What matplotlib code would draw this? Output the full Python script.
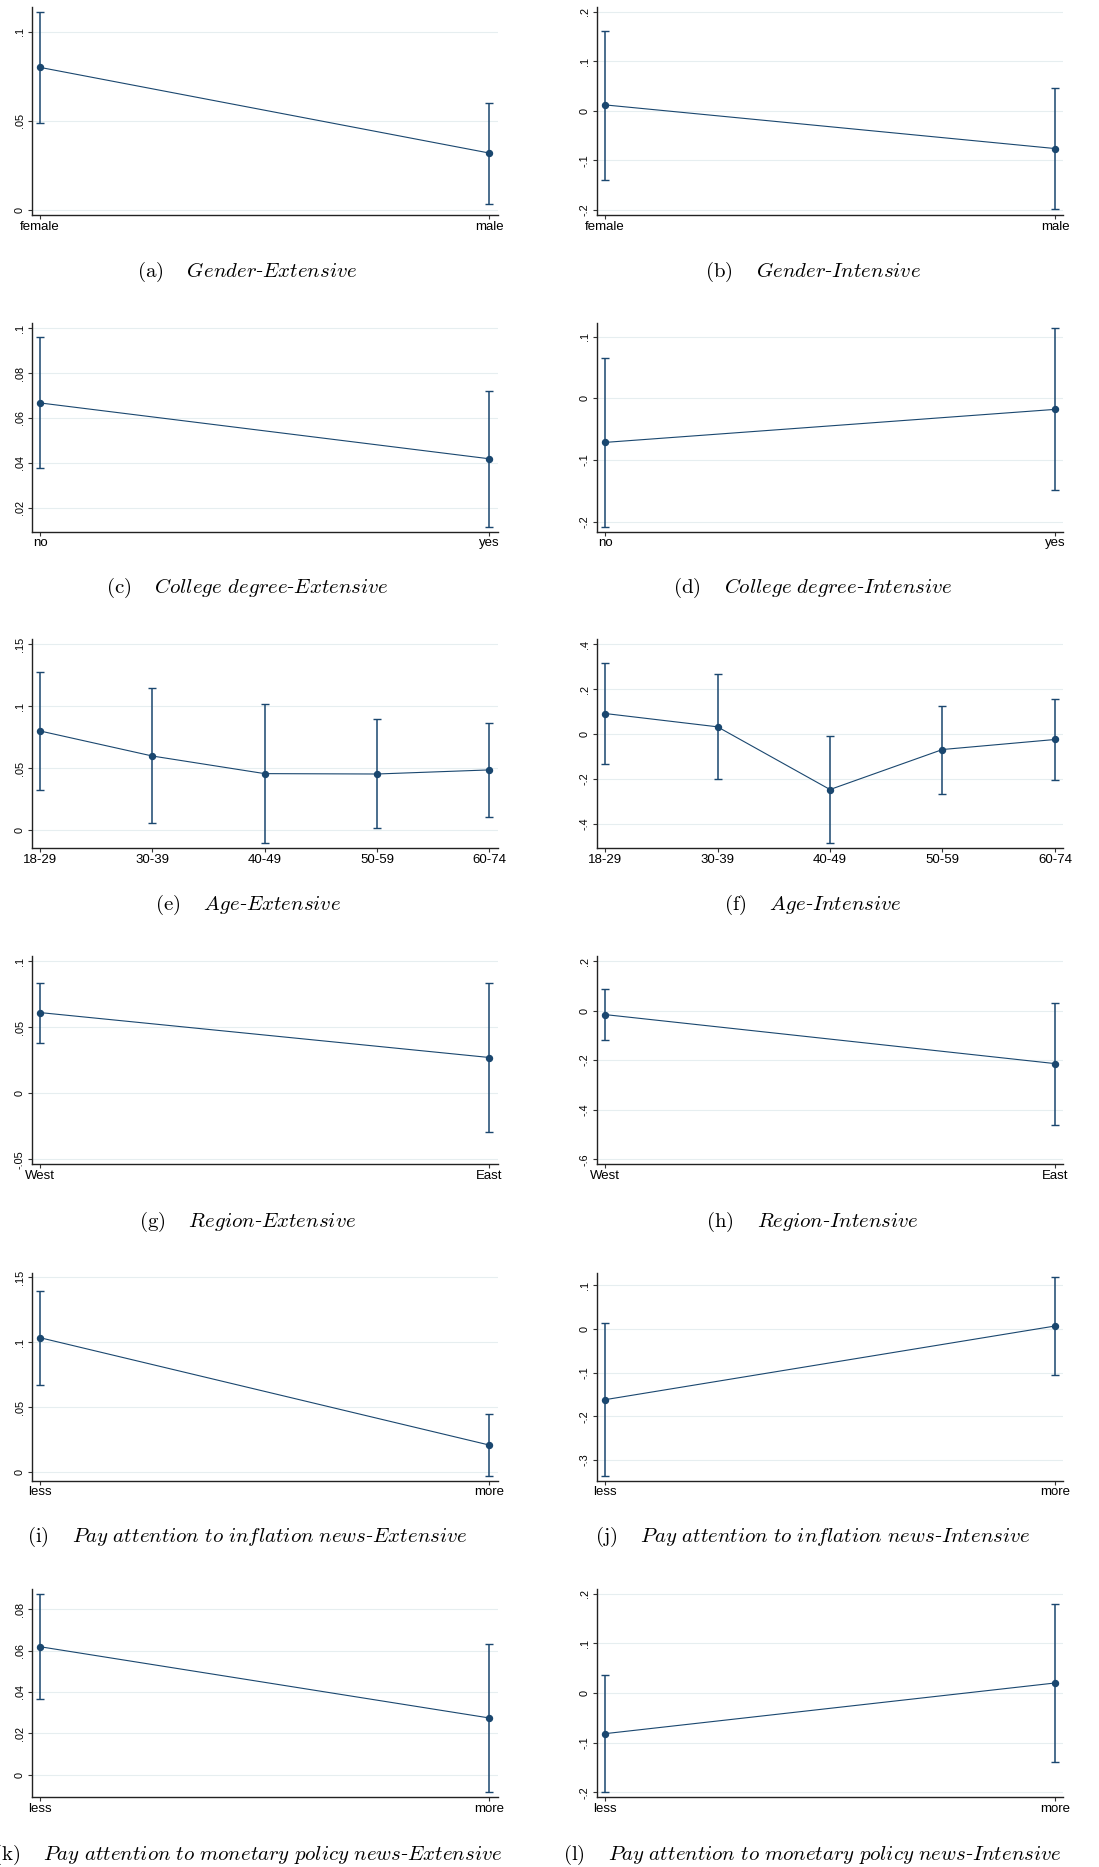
import matplotlib
matplotlib.use("Agg")
import matplotlib.pyplot as plt
from matplotlib.ticker import MultipleLocator, FuncFormatter

plt.rcParams["mathtext.fontset"] = "cm"

# categories
gender_cats = ["female", "male"]
college_cats = ["no", "yes"]
age_cats = ["18-29", "30-39", "40-49", "50-59", "60-74"]
region_cats = ["West", "East"]
attn_cats = ["less", "more"]

# estimates with 95% CI
gender_ext = [0.080, 0.032]
gender_ext_lo = [0.049, 0.0032]
gender_ext_hi = [0.111, 0.060]
gender_int = [0.012, -0.076]
gender_int_lo = [-0.139, -0.197]
gender_int_hi = [0.162, 0.046]

college_ext = [0.0667, 0.0418]
college_ext_lo = [0.0375, 0.0115]
college_ext_hi = [0.096, 0.072]
college_int = [-0.0713, -0.0178]
college_int_lo = [-0.208, -0.149]
college_int_hi = [0.066, 0.1136]

age_ext = [0.0801, 0.0599, 0.0457, 0.0454, 0.0487]
age_ext_lo = [0.0323, 0.0056, -0.0102, 0.0016, 0.0105]
age_ext_hi = [0.128, 0.1145, 0.1022, 0.0895, 0.0868]
age_int = [0.092, 0.0327, -0.2464, -0.0683, -0.0237]
age_int_lo = [-0.1336, -0.2004, -0.4838, -0.2657, -0.2048]
age_int_hi = [0.319, 0.2687, -0.006, 0.1276, 0.1544]

region_ext = [0.061, 0.027]
region_ext_lo = [0.0383, -0.0295]
region_ext_hi = [0.0837, 0.0837]
region_int = [-0.0161, -0.2138]
region_int_lo = [-0.1183, -0.46]
region_int_hi = [0.086, 0.0323]

infl_ext = [0.1036, 0.021]
infl_ext_lo = [0.0674, -0.0028]
infl_ext_hi = [0.1397, 0.0449]
infl_int = [-0.1618, 0.0069]
infl_int_lo = [-0.3366, -0.1053]
infl_int_hi = [0.013, 0.1183]

mp_ext = [0.0619, 0.0274]
mp_ext_lo = [0.0365, -0.0085]
mp_ext_hi = [0.0876, 0.0632]
mp_int = [-0.0819, 0.0201]
mp_int_lo = [-0.200, -0.1383]
mp_int_hi = [0.0362, 0.1785]

panels = [
    (gender_cats, gender_ext, gender_ext_lo, gender_ext_hi, "a", "Gender", "Extensive", (-0.0027, 0.114), 0.05),
    (gender_cats, gender_int, gender_int_lo, gender_int_hi, "b", "Gender", "Intensive", (-0.21, 0.21), 0.1),
    (college_cats, college_ext, college_ext_lo, college_ext_hi, "c", "College degree", "Extensive", (0.0093, 0.1022), 0.02),
    (college_cats, college_int, college_int_lo, college_int_hi, "d", "College degree", "Intensive", (-0.216, 0.1217), 0.1),
    (age_cats, age_ext, age_ext_lo, age_ext_hi, "e", "Age", "Extensive", (-0.0145, 0.154), 0.05),
    (age_cats, age_int, age_int_lo, age_int_hi, "f", "Age", "Intensive", (-0.508, 0.4223), 0.2),
    (region_cats, region_ext, region_ext_lo, region_ext_hi, "g", "Region", "Extensive", (-0.0538, 0.1038), 0.05),
    (region_cats, region_int, region_int_lo, region_int_hi, "h", "Region", "Intensive", (-0.62, 0.2202), 0.2),
    (attn_cats, infl_ext, infl_ext_lo, infl_ext_hi, "i", "Pay attention to inflation news", "Extensive", (-0.0064, 0.1536), 0.05),
    (attn_cats, infl_int, infl_int_lo, infl_int_hi, "j", "Pay attention to inflation news", "Intensive", (-0.3473, 0.129), 0.1),
    (attn_cats, mp_ext, mp_ext_lo, mp_ext_hi, "k", "Pay attention to monetary policy news", "Extensive", (-0.011, 0.0897), 0.02),
    (attn_cats, mp_int, mp_int_lo, mp_int_hi, "l", "Pay attention to monetary policy news", "Intensive", (-0.21, 0.2087), 0.1),
]

W, H = 1099, 1867
navy = "#1a476f"
col_x = [(31.7, 497.7), (596.7, 1063.3)]
row_y = [(6.7, 215), (323.3, 531.7), (639.3, 848.3), (956, 1164.3), (1272.7, 1480.7), (1589.3, 1797.3)]
cap_y = [272, 588.3, 905, 1221.7, 1537.3, 1855]
cap_x = [247.5, 812.5]


def stata_fmt(v, pos):
    if abs(v) < 1e-9:
        return "0"
    s = "%g" % round(v, 6)
    return s.replace("0.", ".")


fig = plt.figure(figsize=(W / 100, H / 100), dpi=100)

for i, (cats, est, lo, hi, letter, name, kind, ylim, step) in enumerate(panels):
    r, c = divmod(i, 2)
    x0, x1 = col_x[c]
    y0, y1 = row_y[r]
    ax = fig.add_axes([x0 / W, 1 - y1 / H, (x1 - x0) / W, (y1 - y0) / H])

    xs = list(range(len(cats)))
    yerr = [[e - l for e, l in zip(est, lo)], [h - e for e, h in zip(est, hi)]]
    ax.errorbar(xs, est, yerr=yerr, fmt="none", ecolor=navy, elinewidth=1.1,
                capsize=3, capthick=1.0, zorder=3)
    ax.plot(xs, est, "-o", color=navy, lw=0.8, ms=4.3, zorder=4)

    pad = 0.0185 * (len(cats) - 1)
    ax.set_xlim(-pad, len(cats) - 1 + pad)
    ax.set_ylim(*ylim)
    ax.set_xticks(xs)
    ax.set_xticklabels(cats, fontsize=9.5, family="Liberation Sans", color="black")
    ax.yaxis.set_major_locator(MultipleLocator(step))
    ax.yaxis.set_major_formatter(FuncFormatter(stata_fmt))
    for lab in ax.get_yticklabels():
        lab.set_rotation(90)
        lab.set_va("center")
        lab.set_fontsize(7.8)
        lab.set_family("Liberation Sans")
        lab.set_color("black")
    ax.tick_params(axis="both", direction="out", length=3, width=0.8, color="#333333", pad=2)
    ax.tick_params(axis="x", pad=1)
    ax.grid(axis="y", color="#e6eef0", lw=0.8)
    ax.set_axisbelow(True)
    for side in ["top", "right"]:
        ax.spines[side].set_visible(False)
    for side in ["left", "bottom"]:
        ax.spines[side].set_color("#222222")
        ax.spines[side].set_linewidth(1.0)

    words = name.replace(" ", r"\ ")
    caption = r"$\mathrm{(" + letter + r")}\quad\;" + words + r"$-$" + kind + "$"
    fig.text(cap_x[c] / W, 1 - cap_y[r] / H, caption, ha="center", va="center",
             fontsize=15, family="DejaVu Serif")

fig.savefig("out.png", dpi=100, facecolor="white")
